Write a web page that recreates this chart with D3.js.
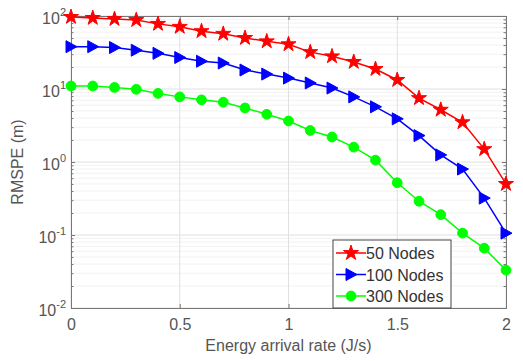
<!DOCTYPE html>
<html>
<head>
<meta charset="utf-8">
<script src="https://cdn.jsdelivr.net/npm/d3@7"></script>
<style>
  body { margin: 0; background: #fff; }
  text { font-family: "Liberation Sans", Arial, sans-serif; }
</style>
</head>
<body>
<div id="chart"></div>
<script>
    var width = 523, height = 361;
    var margin = { left: 71, right: 17, top: 16, bottom: 53 };

    // energy arrival rate (J/s)
    var rates = [0, 0.1, 0.2, 0.3, 0.4, 0.5, 0.6, 0.7, 0.8, 0.9, 1.0,
                 1.1, 1.2, 1.3, 1.4, 1.5, 1.6, 1.7, 1.8, 1.9, 2.0];
    // RMSPE (m)
    var nodes50 = [97, 94, 91, 88, 78, 71, 62, 57, 50, 45, 41,
                   32, 28, 23.5, 18.8, 13.3, 7.5, 5.2, 3.5, 1.5, 0.5];
    var nodes100 = [38, 38, 37, 34, 30.8, 27, 24, 22.7, 18.2, 16, 14.1,
                    12.1, 10.3, 7.8, 5.7, 3.9, 2.3, 1.25, 0.8, 0.32, 0.106];
    var nodes300 = [11, 11, 10.5, 9.9, 8.7, 7.8, 7.1, 6.6, 5.5, 4.5, 3.65,
                    2.7, 2.2, 1.6, 1.06, 0.52, 0.29, 0.19, 0.106, 0.066, 0.033];
    var seriesNames = ["50 Nodes", "100 Nodes", "300 Nodes"];
    var xTicks = [0, 0.5, 1, 1.5, 2];
    var yTicks = [0.01, 0.1, 1, 10, 100];

    var series = [
        { name: seriesNames[0], values: nodes50, color: "#ff0000", marker: "star" },
        { name: seriesNames[1], values: nodes100, color: "#0000ff", marker: "tri" },
        { name: seriesNames[2], values: nodes300, color: "#00ff00", marker: "circle" }
    ];

    var x = d3.scaleLinear().domain([0, 2]).range([margin.left, width - margin.right]);
    var y = d3.scaleLog().domain([0.01, 100]).range([height - margin.bottom, margin.top]);

    var svg = d3.select("#chart").append("svg")
        .attr("width", width)
        .attr("height", height);

    // 网格
    var minor = [];
    [0.01, 0.1, 1, 10].forEach(function (d) {
        for (var k = 2; k <= 9; k++) minor.push(d * k);
    });
    svg.append("g").selectAll("line")
        .data(minor).enter().append("line")
        .attr("x1", x(0)).attr("x2", x(2))
        .attr("y1", function (d) { return y(d); })
        .attr("y2", function (d) { return y(d); })
        .attr("stroke", "#f2f2f2").attr("stroke-width", 1);
    svg.append("g").selectAll("line")
        .data(yTicks).enter().append("line")
        .attr("x1", x(0)).attr("x2", x(2))
        .attr("y1", function (d) { return y(d); })
        .attr("y2", function (d) { return y(d); })
        .attr("stroke", "#e0e0e0").attr("stroke-width", 1);
    svg.append("g").selectAll("line")
        .data(xTicks).enter().append("line")
        .attr("y1", y(0.01)).attr("y2", y(100))
        .attr("x1", function (d) { return x(d); })
        .attr("x2", function (d) { return x(d); })
        .attr("stroke", "#e0e0e0").attr("stroke-width", 1);

    // 坐标轴
    var axisColor = "#777";
    var fmtTick = function (d) { return ""; };
    var gx = svg.append("g").attr("transform", "translate(0," + y(0.01) + ")")
        .call(d3.axisBottom(x).tickValues(xTicks).tickSize(-4).tickFormat(d3.format("")));
    var gxTop = svg.append("g").attr("transform", "translate(0," + y(100) + ")")
        .call(d3.axisTop(x).tickValues(xTicks).tickSize(-4).tickFormat(fmtTick));
    var gy = svg.append("g").attr("transform", "translate(" + x(0) + ",0)")
        .call(d3.axisLeft(y).tickValues(yTicks.concat(minor)).tickSize(-4).tickFormat(fmtTick));
    var gyR = svg.append("g").attr("transform", "translate(" + x(2) + ",0)")
        .call(d3.axisRight(y).tickValues(yTicks.concat(minor)).tickSize(-4).tickFormat(fmtTick));
    [gx, gxTop, gy, gyR].forEach(function (g) {
        g.selectAll("path").attr("stroke", axisColor);
        g.selectAll("line").attr("stroke", axisColor);
    });
    gy.selectAll(".tick line").attr("x2", function (d) { return yTicks.indexOf(d) >= 0 ? 4 : 2.5; });
    gyR.selectAll(".tick line").attr("x2", function (d) { return yTicks.indexOf(d) >= 0 ? -4 : -2.5; });
    gx.selectAll("text").attr("y", 11).attr("font-size", 16).attr("fill", "#555")
        .attr("font-family", "Liberation Sans, Arial, sans-serif");

    // y 刻度标签 10^n
    var ylab = svg.append("g");
    yTicks.forEach(function (d) {
        var t = ylab.append("text")
            .attr("x", x(0) - 5)
            .attr("y", y(d) + 8)
            .attr("text-anchor", "end")
            .attr("fill", "#555")
            .attr("font-size", 16);
        t.append("tspan").text("10");
        t.append("tspan").attr("dy", -8).attr("font-size", 11).text(String(Math.round(Math.log10(d))).replace("-", "-"));
    });

    // 轴标题
    svg.append("text")
        .attr("x", (x(0) + x(2)) / 2)
        .attr("y", 351)
        .attr("text-anchor", "middle")
        .attr("fill", "#555")
        .attr("font-size", 16)
        .text("Energy arrival rate (J/s)");
    svg.append("text")
        .attr("transform", "translate(23," + ((y(0.01) + y(100)) / 2) + ") rotate(-90)")
        .attr("text-anchor", "middle")
        .attr("fill", "#555")
        .attr("font-size", 16)
        .text("RMSPE (m)");

    var star = d3.symbol().type(d3.symbolStar).size(70);
    var circ = d3.symbol().type(d3.symbolCircle).size(75);
    var tri = "M-5,-6L6,0L-5,6Z";
    function markerPath(m) {
        if (m === "star") return star();
        if (m === "circle") return circ();
        return tri;
    }

    var line = d3.line()
        .x(function (d, i) { return x(rates[i]); })
        .y(function (d) { return y(d); });

    series.forEach(function (s) {
        svg.append("path")
            .datum(s.values)
            .attr("d", line)
            .attr("fill", "none")
            .attr("stroke", s.color)
            .attr("stroke-width", 1.5);
        svg.append("g").selectAll("path")
            .data(s.values).enter().append("path")
            .attr("transform", function (d, i) { return "translate(" + x(rates[i]) + "," + y(d) + ")"; })
            .attr("d", markerPath(s.marker))
            .attr("fill", s.color)
            .attr("stroke", s.color);
    });

    // 图例
    var lg = svg.append("g").attr("transform", "translate(333,240)");
    lg.append("rect")
        .attr("width", 118).attr("height", 68)
        .attr("fill", "#fff").attr("stroke", "#444").attr("stroke-width", 1);
    series.forEach(function (s, i) {
        var yy = 13 + i * 21.5;
        lg.append("line").attr("x1", 3).attr("x2", 33).attr("y1", yy).attr("y2", yy)
            .attr("stroke", s.color).attr("stroke-width", 1.5);
        lg.append("path").attr("transform", "translate(18," + yy + ")")
            .attr("d", markerPath(s.marker)).attr("fill", s.color).attr("stroke", s.color);
        lg.append("text").attr("x", 33).attr("y", yy + 6)
            .attr("font-size", 16).attr("fill", "#333").text(s.name);
    });
</script>
</body>
</html>
